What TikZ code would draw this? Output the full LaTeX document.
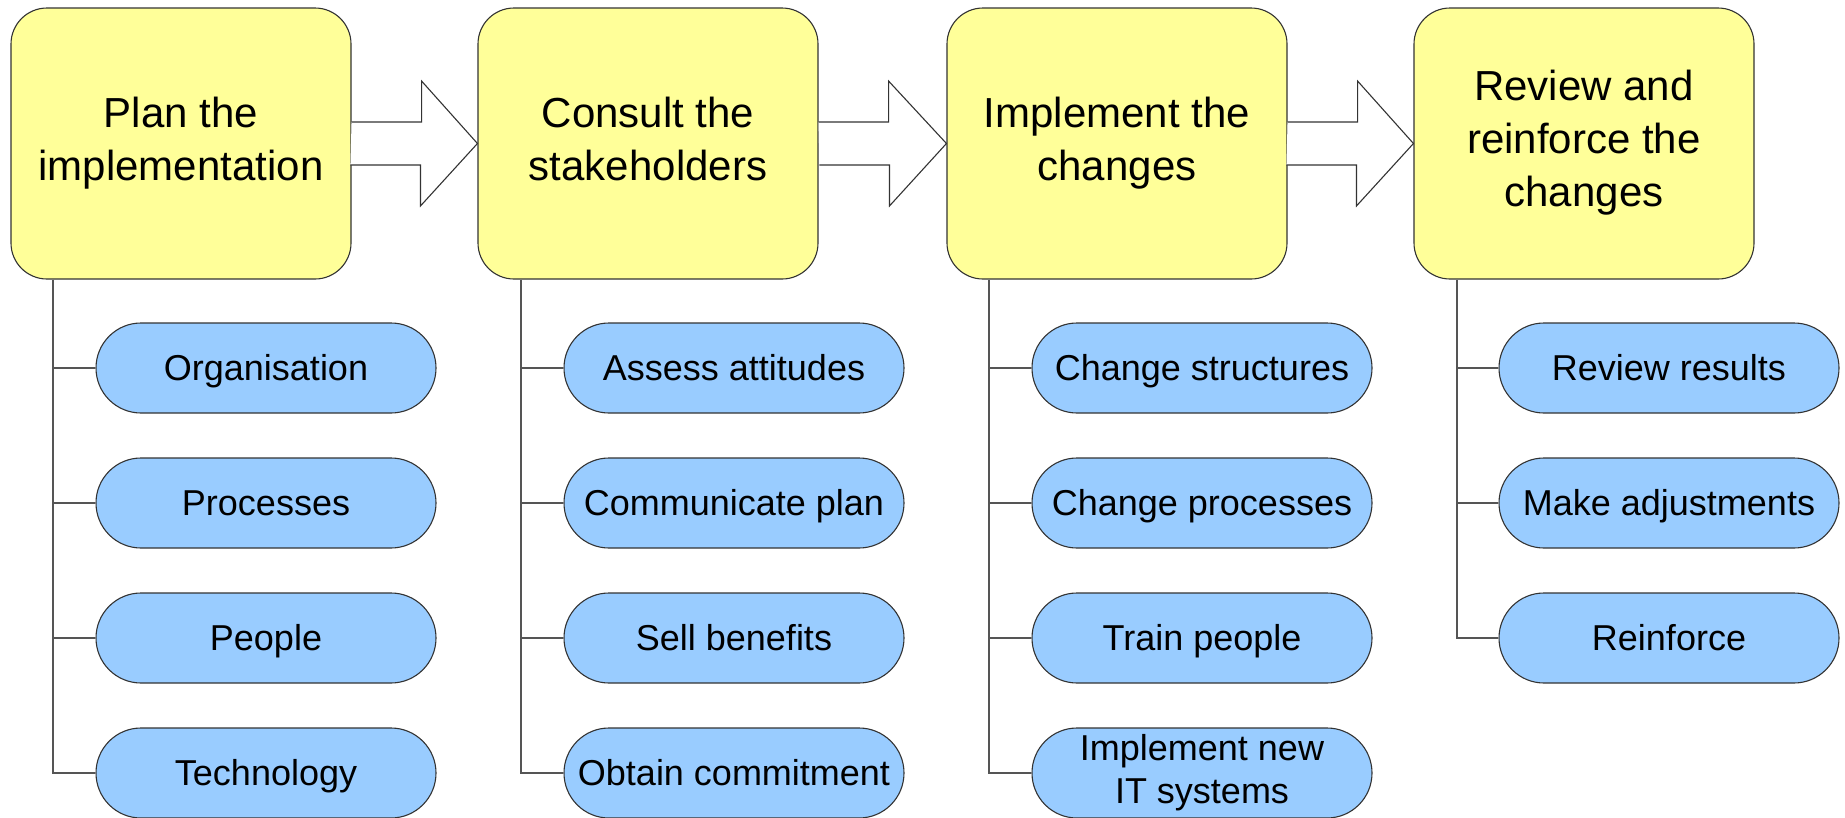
\documentclass[tikz,border=0pt]{standalone}
\usepackage{fontspec}
\setmainfont{Liberation Sans}
\definecolor{stepyellow}{HTML}{FFFF99}
\definecolor{itemblue}{HTML}{99CCFF}
\definecolor{outline}{HTML}{333333}
\definecolor{connline}{HTML}{555555}
\newcommand{\mainstrut}{\rule[-10pt]{0pt}{53pt}}
\newcommand{\pillstrut}{\rule[-8pt]{0pt}{40pt}}
\begin{document}
\begin{tikzpicture}[x=1pt,y=-1pt,
  stepbox/.style={draw=outline, line width=1.1pt, fill=stepyellow, rounded corners=36pt,
    minimum width=340pt, minimum height=271pt, inner sep=0pt, align=center,
    font=\fontsize{42}{53}\selectfont,
    execute at begin node=\mainstrut, execute at end node=\mainstrut},
  itempill/.style={draw=outline, line width=1.1pt, fill=itemblue, rounded corners=45pt,
    minimum width=340pt, minimum height=90pt, inner sep=0pt, align=center,
    font=\fontsize{36}{43}\selectfont,
    execute at begin node=\pillstrut, execute at end node=\pillstrut},
  conn/.style={draw=connline, line width=1.1pt},
  blockarrow/.style={draw=outline, line width=1.1pt, fill=white, line join=miter}]
\useasboundingbox (0,0) rectangle (1845,817);

% main steps
\node[stepbox] (b1) at (181,143.5) {Plan the\\implementation};
\node[stepbox] (b2) at (648,143.5) {Consult the\\stakeholders};
\node[stepbox] (b3) at (1117,143.5) {Implement the\\changes};
\node[stepbox] (b4) at (1584,143.5) {Review and\\reinforce the\\changes};

% block arrows between steps
\foreach \a/\b in {b1/b2,b2/b3,b3/b4}{
  \draw[blockarrow] (\a.east) ++(0,-21.5) -- ++(70,0) -- ++(0,-41) -- (\b.west)
    -- ++(-57,62.5) -- ++(0,-41) -- ++(-70,0);
}

% spine coordinates
\coordinate (v1) at (53,0);
\coordinate (v2) at (521,0);
\coordinate (v3) at (989,0);
\coordinate (v4) at (1457,0);

% sub items
\node[itempill] (p11) at (266,368) {Organisation};
\node[itempill] (p12) at (266,503) {Processes};
\node[itempill] (p13) at (266,638) {People};
\node[itempill] (p14) at (266,773) {Technology};

\node[itempill] (p21) at (734,368) {Assess attitudes};
\node[itempill] (p22) at (734,503) {Communicate plan};
\node[itempill] (p23) at (734,638) {Sell benefits};
\node[itempill] (p24) at (734,773) {Obtain commitment};

\node[itempill] (p31) at (1202,368) {Change structures};
\node[itempill] (p32) at (1202,503) {Change processes};
\node[itempill] (p33) at (1202,638) {Train people};
\node[itempill] (p34) at (1202,773) {Implement new\\IT systems};

\node[itempill] (p41) at (1669,368) {Review results};
\node[itempill] (p42) at (1669,503) {Make adjustments};
\node[itempill] (p43) at (1669,638) {Reinforce};

% connectors
\foreach \s in {1,2,3}{
  \draw[conn] (b\s.south -| v\s) |- (p\s4.west);
  \foreach \k in {1,2,3}{
    \draw[conn] (v\s |- p\s\k.west) -- (p\s\k.west);
  }
}
\draw[conn] (b4.south -| v4) |- (p43.west);
\foreach \k in {1,2}{
  \draw[conn] (v4 |- p4\k.west) -- (p4\k.west);
}
\end{tikzpicture}
\end{document}
